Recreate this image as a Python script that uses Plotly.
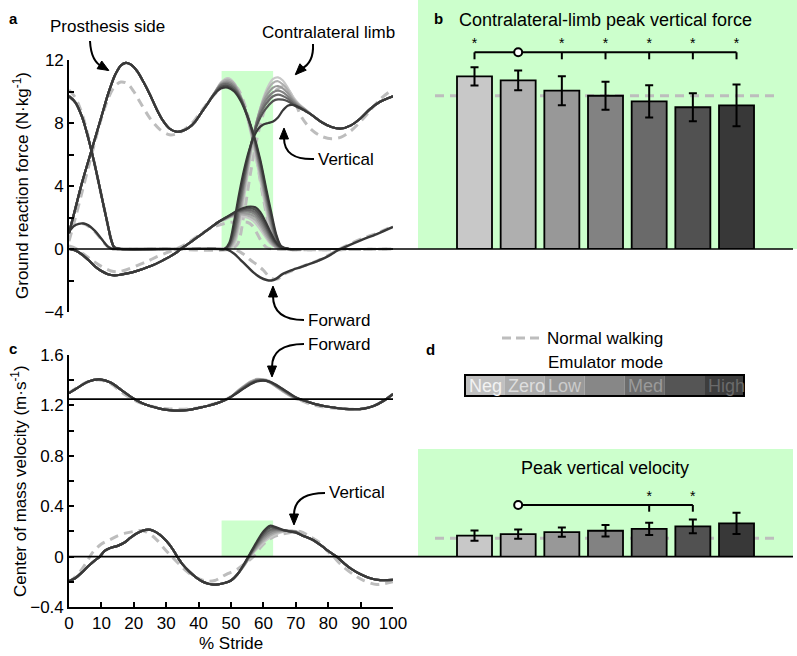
import plotly.graph_objects as go

W, H = 797, 656
FONT = "Liberation Sans, Arial, sans-serif"

# ---------------- data ----------------
MODES = ["Neg", "Zero", "Low", "", "Med", "", "High"]
MODE_COLORS = ['#c8c8c8', '#afafaf', '#989898', '#828282', '#6a6a6a', '#515151', '#383838']
STRIP_COLORS = ['#c0c0c0', '#acacac', '#999999', '#878787', '#6c6c6c', '#555555', '#3d3d3d']
STRIP_TEXT = ['#f2f2f2', '#dedede', '#cbcbcb', '#b0b0b0', '#9a9a9a', '#7a7a7a', '#6a6a6a']
NORMAL_COLOR = '#bdbdbd'
GREEN = '#ccffcc'

# Panel b: contralateral-limb peak vertical force (N/kg)
PEAK_FORCE = [10.96, 10.71, 10.05, 9.73, 9.37, 9.0, 9.12]
PEAK_FORCE_ERR = [0.58, 0.63, 0.92, 0.89, 1.02, 0.89, 1.33]
PEAK_FORCE_NORMAL = 9.73
FORCE_STARS = [0, 2, 3, 4, 5, 6]
FORCE_REF = 1

# Panel d: peak vertical COM velocity (m/s)
PEAK_VEL = [0.169, 0.181, 0.197, 0.208, 0.223, 0.243, 0.267]
PEAK_VEL_ERR = [0.04, 0.037, 0.036, 0.045, 0.049, 0.055, 0.084]
PEAK_VEL_NORMAL = 0.148
VEL_STARS = [4, 5]
VEL_REF = 1

# Panel a: prosthesis-side vertical GRF
PV_PRE_X = [0, 2, 4, 6, 8, 10, 12, 13, 14, 15, 16, 17.5, 19, 21, 23, 25, 27, 29, 31, 33, 35, 37, 39, 41, 43]
PV_PRE_Y = [1.0, 2.6, 4.2, 5.6, 7.0, 8.4, 9.8, 10.4, 10.95, 11.35, 11.65, 11.82, 11.72, 11.3, 10.6, 9.8,
            8.9, 8.15, 7.65, 7.45, 7.5, 7.7, 8.1, 8.7, 9.3]
PV_SEG_X = [45, 47, 49, 51, 53, 55, 57, 59, 61, 62.5, 64, 65.5, 68]
PV_SEG = [
    [9.95, 10.6, 10.85, 10.55, 9.7, 8.3, 6.5, 4.4, 2.3, 1.0, 0.25, 0.02, 0],
    [9.95, 10.55, 10.75, 10.5, 9.7, 8.4, 6.7, 4.7, 2.6, 1.25, 0.35, 0.04, 0],
    [9.93, 10.5, 10.65, 10.4, 9.65, 8.45, 6.85, 4.95, 2.85, 1.45, 0.45, 0.06, 0],
    [9.92, 10.45, 10.55, 10.3, 9.6, 8.5, 7.0, 5.15, 3.1, 1.65, 0.55, 0.08, 0],
    [9.9, 10.4, 10.45, 10.2, 9.55, 8.5, 7.1, 5.35, 3.3, 1.85, 0.65, 0.1, 0],
    [9.88, 10.3, 10.35, 10.1, 9.5, 8.5, 7.2, 5.55, 3.5, 2.05, 0.78, 0.13, 0],
    [9.85, 10.2, 10.25, 10.0, 9.4, 8.45, 7.25, 5.7, 3.7, 2.25, 0.9, 0.18, 0],
]
PV_POST_X = [72, 100]
PV_POST_Y = [0, 0]

# Panel a: contralateral-limb vertical GRF
CV_PRE_X = [0, 2, 4, 6, 8, 10, 12, 13, 14, 16, 30, 46]
CV_PRE_Y = [9.7, 9.3, 8.4, 7.0, 5.3, 3.4, 1.5, 0.6, 0.1, 0, 0, 0]
CV_SEG_X = [48, 49.5, 51, 52.5, 54, 55.5, 57, 58.5, 60, 61.5, 63, 64.5, 66, 67.5, 69, 71, 73]
CV_SEG = [
    [0.0, 0.0, 0.3, 1.4, 3.2, 5.2, 7.0, 8.5, 9.6, 10.35, 10.8, 10.9, 10.7, 10.25, 9.7, 9.2, 8.85],
    [0.0, 0.05, 0.5, 1.8, 3.6, 5.5, 7.2, 8.55, 9.5, 10.15, 10.55, 10.65, 10.45, 10.1, 9.6, 9.15, 8.85],
    [0.0, 0.1, 0.7, 2.1, 3.9, 5.7, 7.3, 8.5, 9.35, 9.9, 10.25, 10.35, 10.2, 9.9, 9.5, 9.1, 8.82],
    [0.0, 0.15, 0.9, 2.4, 4.2, 5.9, 7.3, 8.4, 9.15, 9.65, 9.95, 10.05, 9.95, 9.7, 9.4, 9.05, 8.8],
    [0.0, 0.2, 1.1, 2.7, 4.4, 6.0, 7.3, 8.3, 8.95, 9.4, 9.7, 9.8, 9.72, 9.55, 9.3, 9.0, 8.78],
    [0.0, 0.3, 1.4, 3.1, 4.7, 6.1, 7.25, 8.1, 8.7, 9.1, 9.4, 9.5, 9.48, 9.38, 9.2, 8.95, 8.77],
    [0.0, 0.4, 1.8, 3.5, 5.0, 6.2, 7.1, 7.65, 7.9, 8.0, 8.1, 8.35, 8.8, 9.1, 9.15, 9.0, 8.75],
]
CV_POST_X = [75, 78, 81, 84, 87, 90, 93, 96, 100]
CV_POST_Y = [8.5, 8.05, 7.75, 7.65, 7.85, 8.3, 8.9, 9.35, 9.7]

# Panel a: prosthesis-side forward GRF
PF_PRE_X = [0, 2, 4, 6, 8, 10, 12, 14, 16, 18, 20, 23, 26, 29, 31, 33, 34.5, 36, 38, 40, 42, 44, 46]
PF_PRE_Y = [0, -0.1, -0.35, -0.7, -1.1, -1.4, -1.6, -1.67, -1.63, -1.55, -1.45, -1.25, -1.02, -0.72,
            -0.5, -0.25, 0, 0.22, 0.5, 0.8, 1.1, 1.4, 1.7]
PF_SEG_X = [48, 50, 52, 54, 56, 57.5, 59, 60.5, 62, 63.5, 65, 67, 70]
PF_SEG = [
    [1.85, 2.03, 2.1, 2.05, 1.9, 1.65, 1.25, 0.8, 0.38, 0.12, 0.02, 0, 0],
    [1.88, 2.07, 2.18, 2.18, 2.05, 1.85, 1.45, 0.95, 0.48, 0.17, 0.03, 0, 0],
    [1.9, 2.1, 2.25, 2.28, 2.2, 2.03, 1.63, 1.1, 0.6, 0.22, 0.05, 0, 0],
    [1.92, 2.13, 2.3, 2.38, 2.35, 2.2, 1.8, 1.28, 0.72, 0.3, 0.08, 0, 0],
    [1.93, 2.15, 2.35, 2.47, 2.47, 2.35, 1.98, 1.45, 0.85, 0.38, 0.1, 0.01, 0],
    [1.95, 2.18, 2.4, 2.55, 2.6, 2.5, 2.15, 1.6, 0.98, 0.45, 0.14, 0.01, 0],
    [1.95, 2.2, 2.45, 2.62, 2.7, 2.65, 2.35, 1.8, 1.15, 0.55, 0.18, 0.02, 0],
]
PF_POST_X = [75, 100]
PF_POST_Y = [0, 0]

# Panel a: contralateral-limb forward GRF
CF_X = [0, 1.5, 3, 4.5, 6, 8, 10, 12, 13.5, 15, 30, 47, 49, 51, 53, 55, 57, 59, 61, 62.5, 64, 66,
        70, 75, 80, 83, 86, 90, 95, 100]
CF_Y = [1.1, 1.45, 1.6, 1.62, 1.5, 1.15, 0.65, 0.15, 0.0, 0, 0, 0, -0.05, -0.3, -0.7, -1.1, -1.5,
        -1.8, -1.97, -2.0, -1.88, -1.58, -1.25, -0.9, -0.45, -0.08, 0.2, 0.55, 0.95, 1.4]

# Panel a: normal walking (dashed)
NV1_X = [0, 2, 4, 6, 8, 10, 12, 13, 14, 16, 30, 50, 52, 54, 56, 58, 60, 62, 64, 66, 68, 70, 72, 75,
         78, 81, 84, 87, 90, 93, 96, 100]
NV1_Y = [10.1, 9.6, 8.6, 7.1, 5.3, 3.4, 1.5, 0.6, 0.1, 0, 0, 0, 0.3, 2.2, 4.8, 7.0, 8.6, 9.6, 10.1,
         10.3, 10.0, 9.2, 8.3, 7.55, 7.15, 7.0, 7.1, 7.5, 8.1, 8.8, 9.5, 10.15]
NV2_X = [0, 2, 4, 6, 8, 10, 12, 14, 16, 18, 20, 22, 25, 28, 31, 33, 35, 38, 41, 44, 47, 50, 52, 54,
         56, 58, 60, 62, 64, 66, 100]
NV2_Y = [0.5, 2.0, 3.6, 5.2, 6.8, 8.3, 9.5, 10.3, 10.6, 10.5, 10.0, 9.3, 8.3, 7.6, 7.25, 7.3, 7.5,
         8.0, 8.8, 9.6, 10.2, 10.4, 10.2, 9.3, 7.8, 5.6, 3.2, 1.2, 0.1, 0, 0]
NF1_X = [0, 2, 4, 7, 10, 13, 15, 18, 21, 24, 27, 30, 33, 36, 40, 44, 48, 50, 53, 55, 56.5, 58, 59.5,
         61, 63, 100]
NF1_Y = [0.2, 0.05, -0.25, -0.7, -1.1, -1.4, -1.45, -1.3, -1.05, -0.8, -0.5, -0.25, 0.0, 0.3, 0.85,
         1.35, 1.62, 1.7, 1.72, 1.7, 1.5, 1.0, 0.45, 0.1, 0, 0]
NF2_X = [0, 1.5, 3, 4.5, 6, 8, 10, 12, 14, 30, 50, 52, 54, 56, 58, 60, 61.5, 63, 64.5, 66, 68, 72,
         76, 80, 83, 87, 91, 95, 100]
NF2_Y = [1.2, 1.5, 1.6, 1.6, 1.45, 1.1, 0.6, 0.15, 0, 0, 0, -0.1, -0.35, -0.7, -1.0, -1.35, -1.7,
         -1.9, -1.9, -1.65, -1.45, -1.1, -0.8, -0.4, -0.05, 0.35, 0.7, 1.0, 1.45]

# Panel c: COM forward velocity
VF_PRE_X = [0, 3, 6, 9.5, 13, 16, 19, 22, 25, 28, 31, 34, 37, 40, 43, 46, 48, 50]
VF_PRE_Y = [1.297, 1.345, 1.39, 1.407, 1.38, 1.325, 1.27, 1.225, 1.195, 1.175, 1.163, 1.159, 1.165,
            1.18, 1.197, 1.22, 1.24, 1.268]
VF_SEG_X = [52, 54, 56, 58, 60, 62, 64, 66, 68, 70]
VF_SEG = [
    [1.315, 1.355, 1.39, 1.41, 1.405, 1.38, 1.345, 1.31, 1.278, 1.25],
    [1.313, 1.352, 1.387, 1.407, 1.404, 1.382, 1.348, 1.314, 1.281, 1.253],
    [1.31, 1.349, 1.384, 1.404, 1.403, 1.383, 1.351, 1.318, 1.285, 1.256],
    [1.308, 1.346, 1.38, 1.4, 1.401, 1.384, 1.354, 1.321, 1.288, 1.258],
    [1.306, 1.343, 1.376, 1.397, 1.4, 1.386, 1.357, 1.324, 1.291, 1.26],
    [1.303, 1.339, 1.372, 1.394, 1.398, 1.387, 1.36, 1.327, 1.294, 1.263],
    [1.3, 1.335, 1.368, 1.39, 1.397, 1.388, 1.362, 1.33, 1.297, 1.265],
]
VF_POST_X = [73, 76, 79, 82, 85, 88, 91, 94, 97, 100]
VF_POST_Y = [1.235, 1.21, 1.193, 1.182, 1.173, 1.17, 1.175, 1.195, 1.235, 1.29]
MEAN_SPEED = 1.25

# Panel c: COM vertical velocity
VV_PRE_X = [0, 2, 4, 6, 8, 9.5, 11, 12.7, 15, 17, 19, 21, 23, 24.5, 26, 28, 30, 32, 33.4, 35, 37,
            39, 41, 43, 44.5, 46, 48, 50, 52]
VV_PRE_Y = [-0.195, -0.17, -0.125, -0.075, -0.03, 0.0, 0.045, 0.068, 0.085, 0.11, 0.15, 0.185,
            0.208, 0.214, 0.205, 0.175, 0.125, 0.06, 0.0, -0.06, -0.115, -0.16, -0.195, -0.215,
            -0.222, -0.22, -0.21, -0.19, -0.14]
VV_SEG_X = [54, 56, 58, 60, 62, 64, 66, 68, 70]
VV_SEG = [
    [-0.075, 0.0, 0.06, 0.11, 0.15, 0.178, 0.195, 0.205, 0.203],
    [-0.073, 0.005, 0.07, 0.125, 0.165, 0.19, 0.2, 0.205, 0.2],
    [-0.07, 0.01, 0.08, 0.14, 0.18, 0.2, 0.205, 0.204, 0.198],
    [-0.068, 0.015, 0.09, 0.155, 0.196, 0.21, 0.208, 0.203, 0.196],
    [-0.065, 0.02, 0.1, 0.17, 0.212, 0.218, 0.21, 0.202, 0.194],
    [-0.063, 0.025, 0.11, 0.185, 0.23, 0.225, 0.211, 0.201, 0.192],
    [-0.06, 0.03, 0.12, 0.2, 0.245, 0.232, 0.212, 0.2, 0.19],
]
VV_POST_X = [72, 75, 78, 80, 82.6, 85, 87, 90, 93, 96, 100]
VV_POST_Y = [0.168, 0.135, 0.085, 0.045, 0.0, -0.055, -0.095, -0.14, -0.172, -0.187, -0.185]

# Panel c: normal walking (dashed)
NVF_X = [0, 3, 6, 9.5, 13, 16, 19, 22, 25, 28, 31, 34, 37, 40, 43, 46, 48, 50, 52, 54, 56, 58, 60,
         62, 64, 66, 68, 70, 73, 76, 79, 82, 85, 88, 91, 94, 97, 100]
NVF_Y = [1.3, 1.35, 1.39, 1.402, 1.37, 1.31, 1.258, 1.22, 1.195, 1.18, 1.172, 1.17, 1.172, 1.182,
         1.2, 1.222, 1.242, 1.27, 1.305, 1.345, 1.38, 1.402, 1.405, 1.39, 1.36, 1.325, 1.29, 1.258,
         1.225, 1.2, 1.185, 1.178, 1.172, 1.17, 1.175, 1.195, 1.235, 1.29]
NVV_X = [0, 2, 4, 6, 7.5, 10, 12.7, 15, 17.8, 20, 21.9, 24, 27, 29.5, 31.7, 34, 36, 38.4, 41, 43, 45,
         46.6, 49, 51.8, 54, 56.9, 59, 61, 63, 65.1, 68, 71.3, 74, 77.5, 79.5, 81.6, 84, 87.8, 91,
         95, 97.5, 100]
NVV_Y = [-0.2, -0.16, -0.1, -0.02, 0.04, 0.1, 0.135, 0.165, 0.188, 0.2, 0.208, 0.195, 0.135, 0.06,
         0.0, -0.06, -0.11, -0.156, -0.185, -0.195, -0.19, -0.169, -0.135, -0.103, -0.06, 0.0, 0.07,
         0.121, 0.155, 0.174, 0.19, 0.2, 0.165, 0.108, 0.05, 0.0, -0.065, -0.143, -0.19, -0.222,
         -0.215, -0.2]

# ---------------- layout geometry (pixels) ----------------
AX_L, AX_R = 69, 393            # x = 0 .. 100
A_Y0, A_PXU = 249, 15.75        # panel a zero line, px per N/kg
C_Y0, C_PXU = 557, 126.25       # panel c zero line, px per m/s
BAR_C0, BAR_STEP, BAR_W = 474.5, 43.67, 35
RIGHT_L, RIGHT_R = 418, 797


def fx(px):
    return px / W


def fy(py):
    return 1 - py / H


fig = go.Figure()

line_kw = dict(shape='spline', smoothing=0.9)

# ---------- panel a ----------
for xs, ys in [(NV1_X, NV1_Y), (NV2_X, NV2_Y), (NF1_X, NF1_Y), (NF2_X, NF2_Y)]:
    fig.add_trace(go.Scatter(x=xs, y=ys, mode='lines', xaxis='x', yaxis='y', hoverinfo='skip',
                             line=dict(color=NORMAL_COLOR, width=3, dash='9px,6px', **line_kw)))

for i in range(7):
    for (px_, py_, sx, sy, qx, qy) in [
        (PV_PRE_X, PV_PRE_Y, PV_SEG_X, PV_SEG[i], PV_POST_X, PV_POST_Y),
        (CV_PRE_X, CV_PRE_Y, CV_SEG_X, CV_SEG[i], CV_POST_X, CV_POST_Y),
        (PF_PRE_X, PF_PRE_Y, PF_SEG_X, PF_SEG[i], PF_POST_X, PF_POST_Y),
    ]:
        fig.add_trace(go.Scatter(x=px_ + sx + qx, y=py_ + sy + qy, mode='lines', xaxis='x', yaxis='y',
                                 hoverinfo='skip', line=dict(color=MODE_COLORS[i], width=2.2, **line_kw)))
fig.add_trace(go.Scatter(x=CF_X, y=CF_Y, mode='lines', xaxis='x', yaxis='y', hoverinfo='skip',
                         line=dict(color=MODE_COLORS[6], width=2.4, **line_kw)))

# ---------- panel c ----------
for xs, ys in [(NVF_X, NVF_Y), (NVV_X, NVV_Y)]:
    fig.add_trace(go.Scatter(x=xs, y=ys, mode='lines', xaxis='x2', yaxis='y2', hoverinfo='skip',
                             line=dict(color=NORMAL_COLOR, width=3, dash='9px,6px', **line_kw)))
for i in range(7):
    for (px_, py_, sx, sy, qx, qy) in [
        (VF_PRE_X, VF_PRE_Y, VF_SEG_X, VF_SEG[i], VF_POST_X, VF_POST_Y),
        (VV_PRE_X, VV_PRE_Y, VV_SEG_X, VV_SEG[i], VV_POST_X, VV_POST_Y),
    ]:
        fig.add_trace(go.Scatter(x=px_ + sx + qx, y=py_ + sy + qy, mode='lines', xaxis='x2', yaxis='y2',
                                 hoverinfo='skip', line=dict(color=MODE_COLORS[i], width=2.2, **line_kw)))

# ---------- bar panels ----------
bar_x = list(range(1, 8))
bar_width = BAR_W / BAR_STEP
xr_lo = 1 + (RIGHT_L - BAR_C0) / BAR_STEP
xr_hi = 1 + (RIGHT_R - BAR_C0) / BAR_STEP
dash_lo = 1 + (435 - BAR_C0) / BAR_STEP
dash_hi = 1 + (777 - BAR_C0) / BAR_STEP

for vals, errs, xa, ya in [(PEAK_FORCE, PEAK_FORCE_ERR, 'x3', 'y3'), (PEAK_VEL, PEAK_VEL_ERR, 'x4', 'y4')]:
    fig.add_trace(go.Bar(x=bar_x, y=vals, width=bar_width, xaxis=xa, yaxis=ya, hoverinfo='skip',
                         marker=dict(color=MODE_COLORS, line=dict(color='black', width=1.8)),
                         error_y=dict(type='data', array=errs, color='black', thickness=2, width=4)))


def sig_bracket(xa, ya, ref, stars, y_line, y_tick, y_star):
    idx = sorted(stars + [ref])
    lx = [bar_x[idx[0]], bar_x[idx[-1]], None]
    ly = [y_line, y_line, None]
    for s in stars:
        lx += [bar_x[s], bar_x[s], None]
        ly += [y_line, y_tick, None]
    fig.add_trace(go.Scatter(x=lx, y=ly, mode='lines', xaxis=xa, yaxis=ya, hoverinfo='skip',
                             line=dict(color='black', width=2)))
    fig.add_trace(go.Scatter(x=[bar_x[ref]], y=[y_line], mode='markers', xaxis=xa, yaxis=ya,
                             hoverinfo='skip', cliponaxis=False,
                             marker=dict(symbol='circle', size=8, color='white',
                                         line=dict(color='black', width=2))))
    fig.add_trace(go.Scatter(x=[bar_x[s] for s in stars], y=[y_star] * len(stars), mode='text',
                             text=['*'] * len(stars), xaxis=xa, yaxis=ya, hoverinfo='skip',
                             cliponaxis=False, textfont=dict(family=FONT, size=14, color='black')))


sig_bracket('x3', 'y3', FORCE_REF, FORCE_STARS, (A_Y0 - 52.3) / A_PXU, (A_Y0 - 59.3) / A_PXU,
            (A_Y0 - 44) / A_PXU)
sig_bracket('x4', 'y4', VEL_REF, VEL_STARS, (C_Y0 - 505) / C_PXU, (C_Y0 - 511.7) / C_PXU,
            (C_Y0 - 497) / C_PXU)

# ---------------- shapes ----------------
shapes = []
# green highlights
shapes.append(dict(type='rect', xref='x', yref='y', x0=47.1, x1=63, y0=0, y1=11.3,
                   fillcolor=GREEN, line=dict(width=0), layer='below'))
shapes.append(dict(type='rect', xref='x2', yref='y2', x0=47.1, x1=63, y0=0, y1=0.287,
                   fillcolor=GREEN, line=dict(width=0), layer='below'))
shapes.append(dict(type='rect', xref='paper', yref='paper', x0=fx(RIGHT_L), x1=1, y0=fy(A_Y0), y1=1,
                   fillcolor=GREEN, line=dict(width=0), layer='below'))
shapes.append(dict(type='rect', xref='paper', yref='paper', x0=fx(RIGHT_L), x1=fx(793), y0=fy(C_Y0),
                   y1=fy(449), fillcolor=GREEN, line=dict(width=0), layer='below'))
# normal-walking reference lines in bar panels
shapes.append(dict(type='line', xref='x3', yref='y3', x0=dash_lo, x1=dash_hi, y0=PEAK_FORCE_NORMAL,
                   y1=PEAK_FORCE_NORMAL, line=dict(color=NORMAL_COLOR, width=3, dash='9px,6px'), layer='below'))
shapes.append(dict(type='line', xref='x4', yref='y4', x0=dash_lo, x1=dash_hi, y0=PEAK_VEL_NORMAL,
                   y1=PEAK_VEL_NORMAL, line=dict(color=NORMAL_COLOR, width=3, dash='9px,6px'), layer='below'))
# zero lines
shapes.append(dict(type='line', xref='paper', yref='y', x0=fx(AX_L), x1=fx(793), y0=0, y1=0,
                   line=dict(color='black', width=1.6), layer='above'))
shapes.append(dict(type='line', xref='paper', yref='y2', x0=fx(AX_L), x1=fx(793), y0=0, y1=0,
                   line=dict(color='black', width=1.6), layer='above'))
shapes.append(dict(type='line', xref='x2', yref='y2', x0=0, x1=100, y0=MEAN_SPEED, y1=MEAN_SPEED,
                   line=dict(color='black', width=1.6), layer='above'))
# legend dashed sample
shapes.append(dict(type='line', xref='paper', yref='paper', x0=fx(502), x1=fx(540), y0=fy(338), y1=fy(338),
                   line=dict(color=NORMAL_COLOR, width=3, dash='9px,5px')))
# emulator-mode strip
S_L, S_R, S_T, S_B = 465, 744, 375, 396
cw = (S_R - S_L) / 7
for i in range(7):
    shapes.append(dict(type='rect', xref='paper', yref='paper', x0=fx(S_L + i * cw), x1=fx(S_L + (i + 1) * cw),
                       y0=fy(S_B), y1=fy(S_T), fillcolor=STRIP_COLORS[i], line=dict(width=0)))
shapes.append(dict(type='rect', xref='paper', yref='paper', x0=fx(S_L), x1=fx(S_R), y0=fy(S_B), y1=fy(S_T),
                   line=dict(color='black', width=2)))


# curved arrows
def P(px, py):
    return f"{fx(px):.5f},{fy(py):.5f}"


def arrow(start, ctrl, end, tip):
    shapes.append(dict(type='path', xref='paper', yref='paper',
                       path=f"M {P(*start)} Q {P(*ctrl)} {P(*end)} L {P(*tip)}",
                       line=dict(color='black', width=2)))
    dx, dy = tip[0] - end[0], tip[1] - end[1]
    n = (dx * dx + dy * dy) ** 0.5
    ux, uy = dx / n, dy / n
    bx, by = tip[0] - ux * 10, tip[1] - uy * 10
    px_, py_ = -uy * 4.5, ux * 4.5
    shapes.append(dict(type='path', xref='paper', yref='paper',
                       path=f"M {P(tip[0] + ux * 1.0, tip[1] + uy * 1.0)} L {P(bx + px_, by + py_)} "
                            f"L {P(bx - px_, by - py_)} Z",
                       fillcolor='black', line=dict(color='black', width=1)))


arrow((90, 41), (91, 62), (103, 67), (108, 70))
arrow((313, 44), (314, 63), (301, 69), (296, 74))
arrow((314, 159), (284, 160), (284, 138), (284, 129))
arrow((304, 320), (273, 320), (273, 296), (273, 287))
arrow((304, 344), (272, 344), (272, 367), (272, 376))
arrow((325, 493), (294, 493), (294, 515), (294, 524))

# ---------------- annotations ----------------
ann = []


def text(t, px, py, size=17, xanchor='center', bold=False, color='black', angle=0):
    ann.append(dict(text=f"<b>{t}</b>" if bold else t, x=fx(px), y=fy(py), xref='paper', yref='paper',
                    xanchor=xanchor, yanchor='middle', showarrow=False, textangle=angle,
                    font=dict(family=FONT, size=size, color=color)))


text('a', 7, 18, size=15, xanchor='left', bold=True)
text('b', 432, 19, size=15, xanchor='left', bold=True)
text('c', 7, 348, size=15, xanchor='left', bold=True)
text('d', 424, 349, size=15, xanchor='left', bold=True)
text('Prosthesis side', 107, 27)
text('Contralateral limb', 328, 32)
text('Vertical', 316, 159, xanchor='left')
text('Forward', 306, 320, xanchor='left')
text('Forward', 306, 344, xanchor='left')
text('Vertical', 327, 493, xanchor='left')
text('Contralateral-limb peak vertical force', 605, 20, size=18)
text('Peak vertical velocity', 605, 468, size=18)
text('Normal walking', 545, 338, xanchor='left')
text('Emulator mode', 605, 362)
for i, m in enumerate(MODES):
    if m:
        text(m, S_L + i * cw + 1.5, 386, size=18, xanchor='left', color=STRIP_TEXT[i])
text('Ground reaction force (N·kg<sup>-1</sup>)', 21, 186, angle=-90)
text('Center of mass velocity (m·s<sup>-1</sup>)', 19, 481, angle=-90)
text('% Stride', 231, 643)

# ---------------- axes ----------------
tick_font = dict(family=FONT, size=17, color='black')
tick_kw = dict(showgrid=False, zeroline=False, automargin=False, showline=True, linecolor='black',
               linewidth=1.6, ticks='inside', ticklen=5, tickwidth=1.6, tickcolor='black', tickfont=tick_font)
minor_kw = dict(ticks='inside', ticklen=5, tickwidth=1.6, tickcolor='black', showgrid=False)
fig.update_layout(
    width=W, height=H, margin=dict(l=0, r=0, t=0, b=0, autoexpand=False),
    paper_bgcolor='white', plot_bgcolor='rgba(0,0,0,0)', showlegend=False,
    font=dict(family=FONT, color='black'),
    xaxis=dict(domain=[fx(AX_L), fx(AX_R)], range=[0, 100], visible=False, anchor='y', automargin=False),
    yaxis=dict(domain=[fy(312), fy(60)], range=[-4, 12], anchor='x', tick0=-4, dtick=4,
               minor=dict(dtick=2, tick0=-4, **minor_kw), **tick_kw),
    xaxis2=dict(domain=[fx(AX_L), fx(AX_R)], range=[0, 100], anchor='y2', tick0=0, dtick=10, **tick_kw),
    yaxis2=dict(domain=[fy(607), fy(355)], range=[-0.4, 1.6], anchor='x2', tick0=-0.4, dtick=0.4,
                minor=dict(dtick=0.2, tick0=-0.4, **minor_kw), **tick_kw),
    xaxis3=dict(domain=[fx(RIGHT_L), fx(RIGHT_R)], range=[xr_lo, xr_hi], visible=False, anchor='y3',
                automargin=False),
    yaxis3=dict(domain=[fy(A_Y0), 1], range=[0, A_Y0 / A_PXU], visible=False, anchor='x3', automargin=False),
    xaxis4=dict(domain=[fx(RIGHT_L), fx(RIGHT_R)], range=[xr_lo, xr_hi], visible=False, anchor='y4',
                automargin=False),
    yaxis4=dict(domain=[fy(C_Y0), fy(440)], range=[0, (C_Y0 - 440) / C_PXU], visible=False, anchor='x4',
                automargin=False),
    shapes=shapes, annotations=ann,
)

fig.write_html("out.html", config={'displayModeBar': False},
               post_script="document.body.style.margin='0';document.body.style.padding='0';")
